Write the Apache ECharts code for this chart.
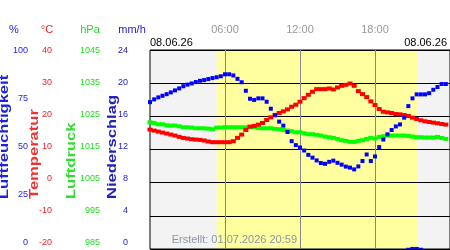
<!DOCTYPE html>
<html>
<head>
<meta charset="utf-8">
<script src="https://cdn.jsdelivr.net/npm/echarts@6/dist/echarts.min.js"></script>
<style>
  html, body { margin: 0; padding: 0; background: #fff; }
  #chart { width: 450px; height: 250px; }
</style>
</head>
<body>
<div id="chart"></div>
<script>
// measurement times (every 20 min)
const times = [
  '00:00','00:20','00:40','01:00','01:20','01:40','02:00','02:20','02:40','03:00','03:20','03:40',
  '04:00','04:20','04:40','05:00','05:20','05:40','06:00','06:20','06:40','07:00','07:20','07:40',
  '08:00','08:20','08:40','09:00','09:20','09:40','10:00','10:20','10:40','11:00','11:20','11:40',
  '12:00','12:20','12:40','13:00','13:20','13:40','14:00','14:20','14:40','15:00','15:20','15:40',
  '16:00','16:20','16:40','17:00','17:20','17:40','18:00','18:20','18:40','19:00','19:20','19:40',
  '20:00','20:20','20:40','21:00','21:20','21:40','22:00','22:20','22:40','23:00','23:20','23:40'
]
const humidity = [
  73.8, 75.2, 76.2, 77.0, 77.8, 78.7, 79.7, 80.7, 81.8, 82.6, 83.2, 83.9,
  84.5, 84.9, 85.4, 85.9, 86.3, 86.8, 87.8, 87.8, 87.2, 85.5, 83.8, 79.5,
  75.5, 74.9, 75.7, 75.7, 74.0, 70.5, 67.2, 64.0, 62.0, 58.8, 54.2, 52.2,
  51.0, 49.5, 47.3, 45.9, 44.5, 43.2, 42.8, 43.8, 44.4, 43.3, 42.4, 41.4,
  40.9, 40.0, 41.5, 44.2, 47.5, 44.2, 46.5, 51.2, 55.0, 57.6, 59.8, 61.6,
  62.6, 66.0, 71.8, 75.7, 77.7, 77.7, 77.7, 78.3, 80.0, 81.4, 82.9, 82.9
]
const temperature = [
  16.0, 15.7, 15.4, 15.1, 14.8, 14.5, 14.2, 13.8, 13.5, 13.3, 13.1, 13.0,
  12.9, 12.7, 12.4, 12.2, 12.2, 12.2, 12.2, 12.2, 12.5, 13.5, 14.5, 15.9,
  16.9, 17.1, 17.5, 18.0, 18.9, 19.7, 20.4, 21.0, 21.5, 22.1, 22.9, 23.5,
  24.4, 25.5, 26.5, 27.4, 28.2, 28.2, 28.2, 28.4, 28.1, 28.7, 29.2, 29.5,
  29.9, 29.2, 27.6, 26.7, 25.8, 24.5, 23.4, 22.2, 21.4, 21.2, 21.0, 20.7,
  20.6, 20.4, 20.1, 19.6, 19.2, 18.8, 18.5, 18.3, 18.1, 17.9, 17.7, 17.5
]
const pressure = [
  1023.2, 1023.0, 1022.6, 1022.6, 1022.3, 1022.2, 1022.2, 1022.0, 1021.7, 1021.7, 1021.6, 1021.4,
  1021.4, 1021.4, 1021.3, 1021.1, 1021.6, 1021.6, 1021.7, 1021.7, 1021.7, 1021.7, 1021.7, 1021.7,
  1021.7, 1021.7, 1021.5, 1021.4, 1021.4, 1021.4, 1021.2, 1021.1, 1020.9, 1020.7, 1020.5, 1020.2,
  1020.2, 1019.9, 1019.6, 1019.6, 1019.4, 1019.2, 1018.9, 1018.7, 1018.5, 1018.2, 1017.8, 1017.6,
  1017.3, 1017.3, 1017.6, 1017.8, 1018.2, 1018.5, 1018.3, 1018.8, 1019.0, 1019.2, 1019.2, 1019.2,
  1019.2, 1019.2, 1019.1, 1018.9, 1018.7, 1018.7, 1018.6, 1018.6, 1018.6, 1018.8, 1018.5, 1018.2
]
const precipTimes = ['20:40', '21:00', '21:20', '21:40']
const precip = [0.15, 0.25, 0.25, 0.15]

const sunrise = '05:20'
const sunset = '21:27'
const timeTicks = ['06:00', '12:00', '18:00']
const dateLabel = '08.06.26'
const created = 'Erstellt: 01.07.2026 20:59'

const BLUE = '#0000ff', RED = '#ff0000', GREEN = '#00ff00'
const font = 'Liberation Sans, Arial, sans-serif'

function toHours(s) {
  return Number(s.slice(0, 2)) + Number(s.slice(3)) / 60
}
function pairs(values, t) {
  return (t || times).map((s, i) => [toHours(s), values[i]])
}

const chart = echarts.init(document.getElementById('chart'))

// hidden data axes (grid 0) + label-only axes (grid 1)
function dataAxis(min, max) {
  return {
    type: 'value', gridIndex: 0, min: min, max: max,
    axisLine: { show: false }, axisTick: { show: false },
    axisLabel: { show: false }, splitLine: { show: false }
  }
}
function labelAxis(min, max, interval, offset, color, fmt) {
  return {
    type: 'value', gridIndex: 1, position: 'left', offset: offset,
    min: min, max: max, interval: interval,
    axisLine: { show: false }, axisTick: { show: false }, splitLine: { show: false },
    axisLabel: { color: color, fontSize: 9, fontFamily: font, margin: 2, formatter: fmt }
  }
}

const tempAxis = dataAxis(-20, 40)
tempAxis.interval = 10
tempAxis.splitLine = { show: true, lineStyle: { color: '#000', width: 1 } }

function titleText(text, x, color) {
  return {
    type: 'text', x: x, y: 199, rotation: Math.PI / 2, scaleX: 1.38,
    style: {
      text: text, fill: color, font: 'bold 12px ' + font,
      align: 'left', verticalAlign: 'middle'
    }
  }
}
function headText(text, x, color) {
  return {
    type: 'text', x: x, y: 30,
    style: { text: text, fill: color, font: '11px ' + font, align: 'center', verticalAlign: 'middle' }
  }
}

chart.setOption({
  animation: false,
  grid: [
    { left: 150, top: 50, width: 301, height: 199, show: true, borderColor: '#000', borderWidth: 1, backgroundColor: 'transparent' },
    { left: 150, top: 50.5, width: 301, height: 192, show: false }
  ],
  xAxis: [
    {
      type: 'value', gridIndex: 0, min: 0, max: 24, interval: 6, position: 'top',
      axisLine: { show: false }, axisTick: { show: false },
      axisLabel: {
        color: '#999', fontSize: 11, fontFamily: font, margin: 15,
        showMinLabel: false, showMaxLabel: false,
        formatter: v => timeTicks.find(s => toHours(s) === v) || ''
      },
      splitLine: { show: true, showMinLine: false, showMaxLine: false, lineStyle: { color: '#888', width: 1 } }
    },
    { type: 'value', gridIndex: 1, min: 0, max: 24, show: false }
  ],
  yAxis: [
    dataAxis(0, 100),
    tempAxis,
    dataAxis(985, 1045),
    dataAxis(0, 24),
    labelAxis(0, 100, 25, 120, '#2222ee'),
    labelAxis(-20, 40, 10, 96, '#ee2222'),
    labelAxis(985, 1045, 5, 48, '#22dd22', v => ((v - 985) % 10 === 0 ? String(v) : '')),
    labelAxis(0, 24, 4, 20, '#2222cc')
  ],
  graphic: [
    headText('%', 14, '#2222ee'),
    headText('°C', 47, '#ee2222'),
    headText('hPa', 90, '#22dd22'),
    headText('mm/h', 132, '#2222cc'),
    titleText('Luftfeuchtigkeit', 5, '#2222dd'),
    titleText('Temperatur', 35, '#ee3333'),
    titleText('Luftdruck', 71.5, '#33dd33'),
    titleText('Niederschlag', 113, '#2222bb'),
    { type: 'text', x: 150, y: 43, style: { text: dateLabel, fill: '#000', font: '11px ' + font, align: 'left', verticalAlign: 'middle' } },
    { type: 'text', x: 447, y: 43, style: { text: dateLabel, fill: '#000', font: '11px ' + font, align: 'right', verticalAlign: 'middle' } },
    { type: 'text', x: 297, y: 240, z: 10, style: { text: created, fill: '#8a94a6', font: '11px ' + font, align: 'right', verticalAlign: 'middle' } }
  ],
  series: [
    {
      // day/night background, kept below the grid lines
      type: 'line', xAxisIndex: 0, yAxisIndex: 1, data: [], silent: true,
      markArea: {
        silent: true, z: -1,
        data: [
          [{ xAxis: 0, itemStyle: { color: '#f3f3f3' } }, { xAxis: toHours(sunrise) }],
          [{ xAxis: toHours(sunrise), itemStyle: { color: '#ffffa0' } }, { xAxis: toHours(sunset) }],
          [{ xAxis: toHours(sunset), itemStyle: { color: '#f3f3f3' } }, { xAxis: 24 }]
        ]
      }
    },
    {
      name: 'Niederschlag', type: 'bar', xAxisIndex: 0, yAxisIndex: 3, barWidth: 4.3,
      data: pairs(precip, precipTimes), itemStyle: { color: BLUE }, z: 2
    },
    {
      name: 'Luftdruck', type: 'scatter', xAxisIndex: 0, yAxisIndex: 2, symbol: 'rect', symbolSize: [5, 4],
      data: pairs(pressure), itemStyle: { color: GREEN, opacity: 1 }, z: 3
    },
    {
      name: 'Temperatur', type: 'scatter', xAxisIndex: 0, yAxisIndex: 1, symbol: 'rect', symbolSize: [5, 4],
      data: pairs(temperature), itemStyle: { color: RED, opacity: 1 }, z: 4
    },
    {
      name: 'Luftfeuchtigkeit', type: 'scatter', xAxisIndex: 0, yAxisIndex: 0, symbol: 'rect', symbolSize: [4, 4],
      data: pairs(humidity), itemStyle: { color: BLUE, opacity: 1 }, z: 5
    }
  ]
})
</script>
</body>
</html>
